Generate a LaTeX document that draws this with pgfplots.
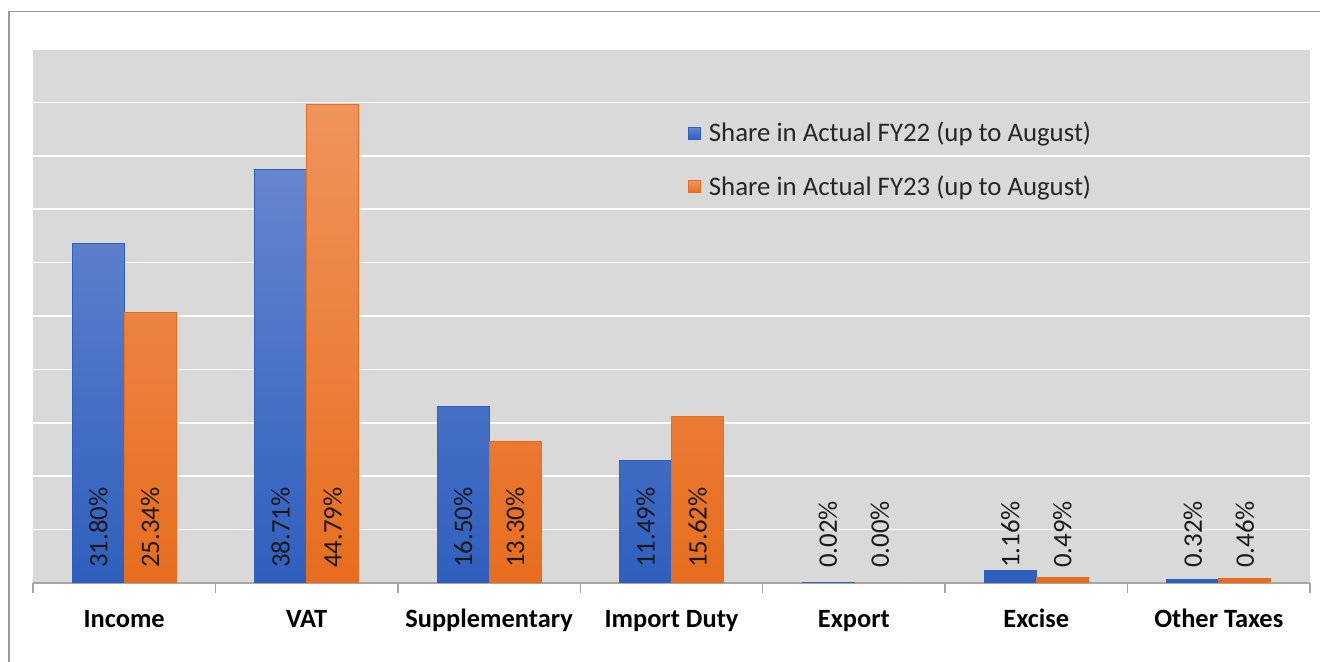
\documentclass[border=0pt]{standalone}
\usepackage{fontspec}
\setmainfont{Carlito}
\usepackage{pgfplots}
\pgfplotsset{compat=1.18}
\definecolor{bgcol}{HTML}{D9D9D9}
\definecolor{bluetop}{HTML}{6586CE}
\definecolor{bluebot}{HTML}{2F5FBE}
\definecolor{orgtop}{HTML}{F0945C}
\definecolor{orgbot}{HTML}{E76D1E}
\definecolor{axgray}{HTML}{A6A6A6}
\definecolor{framegray}{HTML}{999999}
\definecolor{txt}{HTML}{1A1A1A}
\definecolor{legtxt}{HTML}{262626}
\begin{document}
\begin{tikzpicture}
\useasboundingbox (-16.5pt,-39.5pt) rectangle (643.5pt,291.5pt);
\begin{axis}[
  scale only axis, width=638.5pt, height=267pt,
  xmin=-0.5, xmax=6.5, ymin=0, ymax=50,
  ybar=0pt, bar width=26pt,
  /pgf/number format/assume math mode=true,
  axis background/.style={fill=bgcol},
  axis x line*=bottom, axis y line*=left,
  x axis line style={draw=axgray, line width=0.75pt},
  y axis line style={draw=none},
  ytick={0,5,...,50}, yticklabels={}, ytick style={draw=none},
  ymajorgrids, grid style={white, line width=0.75pt},
  xtick={0,...,6},
  xticklabels={Income,VAT,Supplementary,Import Duty,Export,Excise,Other Taxes},
  major tick length=0pt,
  minor xtick={-0.5,0.5,1.5,2.5,3.5,4.5,5.5,6.5},
  minor tick length=5pt, xtick align=outside,
  minor x tick style={draw=axgray, line width=0.75pt},
  x tick label style={font=\fontsize{13.2}{15}\selectfont\bfseries, text=black, anchor=base, yshift=-22pt, inner sep=0pt},
  visualization depends on={y \as \rawy},
  nodes near coords={\pgfmathprintnumber[fixed,fixed zerofill,precision=2,assume math mode=true]{\rawy}\%},
  every node near coord/.append style={yshift={(7.5-5.34*\rawy)*1pt}, rotate=90, anchor=west, font=\fontsize{13.4}{15}\selectfont, text=txt, inner sep=0pt},
  legend style={at={(0.513,0.792)}, anchor=west, draw=none, fill=none,
    font=\fontsize{13.4}{16}\selectfont, text=legtxt, inner sep=0pt, outer sep=0pt,
    nodes={inner sep=0pt}, row sep=15.5pt, column sep=4pt},
  legend cell align=left,
]
\addplot[draw=bluebot, line width=0.4pt, top color=bluetop, bottom color=bluebot,
  legend image code/.code={\path[top color=bluetop, bottom color=bluebot] (0pt,-3pt) rectangle (6pt,3pt);}]
  coordinates {(0,31.80) (1,38.71) (2,16.50) (3,11.49) (4,0.02) (5,1.16) (6,0.32)};
\addplot[draw=orgbot, line width=0.4pt, top color=orgtop, bottom color=orgbot,
  legend image code/.code={\path[top color=orgtop, bottom color=orgbot] (0pt,-3pt) rectangle (6pt,3pt);}]
  coordinates {(0,25.34) (1,44.79) (2,13.30) (3,15.62) (4,0.004) (5,0.49) (6,0.46)};
\legend{Share in Actual FY22 (up to August),Share in Actual FY23 (up to August)}
\end{axis}
\draw[framegray, line width=0.75pt] (-12pt,-100pt) -- (-12pt,285.75pt) -- (800pt,285.75pt);
\end{tikzpicture}
\end{document}
